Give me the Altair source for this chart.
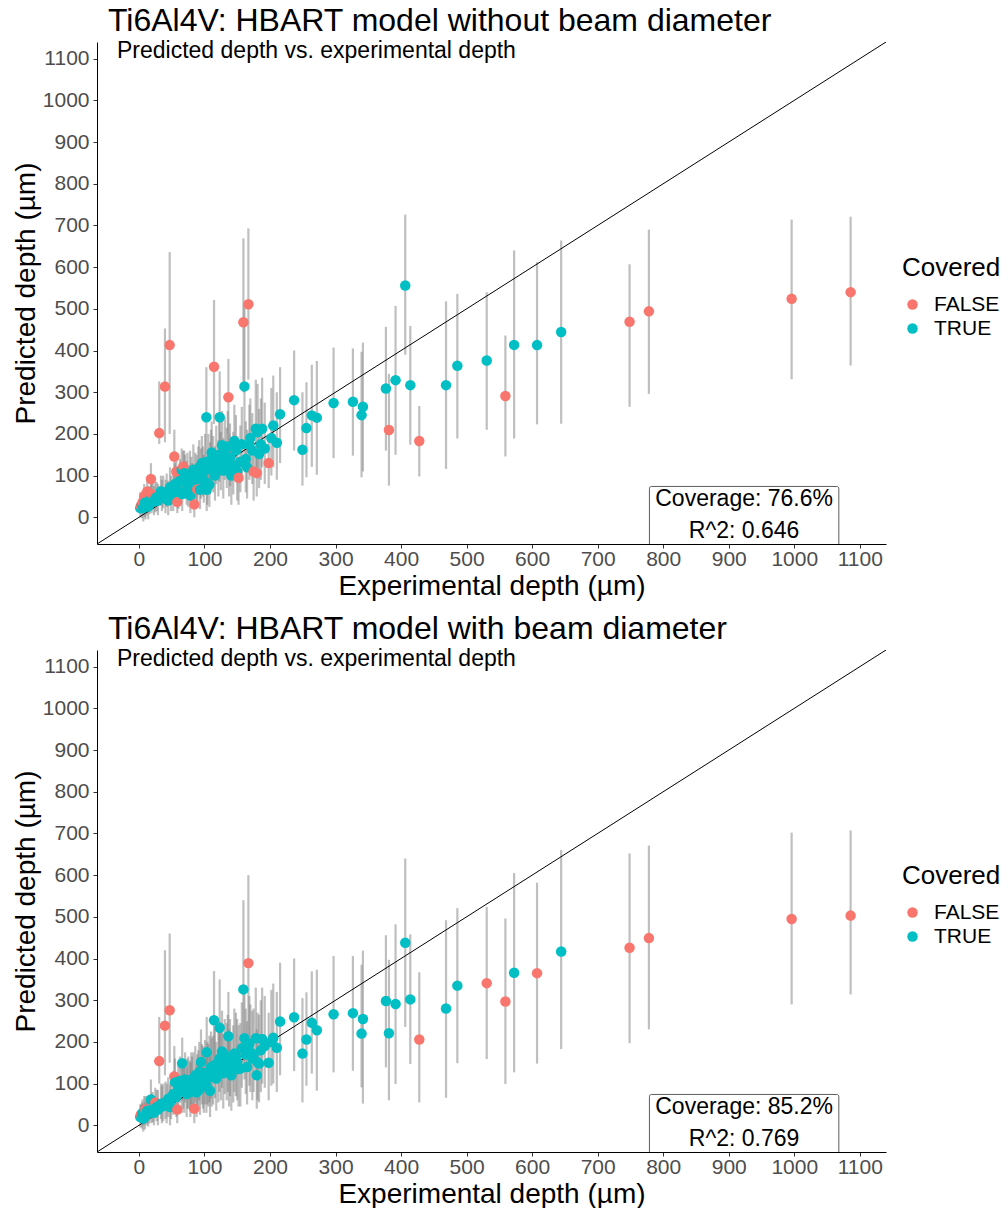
import altair as alt
import pandas as pd

# Experimental depth of each track (µm), shared by both models
exp_depth = [
    2, 3, 4.5, 5.6, 6.6, 8.1, 9, 10, 11.8, 12.7, 14.2, 16, 18.3, 19.4, 21, 23, 25, 27, 29, 31,
    33.6, 35, 37, 39.7, 40.5, 42.3, 44.7, 46.9, 47.4, 49, 52.4, 54, 55, 57, 58.5, 60, 62.6, 65.2, 66, 67.7,
    69, 70.5, 72.8, 74, 75.3, 77.9, 78.5, 79.9, 81, 83, 84.5, 86, 88, 89, 90.6, 92, 93.2, 94.7, 96, 97.8,
    99, 100.8, 102.9, 103.4, 104.3, 106, 107.5, 108.5, 110, 111, 113.4, 114.6, 116, 118, 121.2, 122.7, 123.2, 125, 126.8, 128.7,
    131, 134, 135.5, 136.5, 137.6, 139, 141, 144, 145.6, 148, 150, 152, 154.8, 157, 159.4, 161, 163, 165, 167, 168.5,
    170, 173, 175, 178.3, 179.8, 181, 183.3, 186, 188, 192, 198, 202, 205, 210.4, 215.4, 236.8, 249.5, 255.6, 263.8, 271.5,
    297, 326.5, 339.7, 341.8, 376.9, 381.5, 391.6, 406.4, 414.1, 427.8, 468.6, 485.9, 530.7, 559.2, 572.5, 607.5, 644.3, 748.7, 778.2, 996,
    1086,
]

# Model without beam diameter: prediction and interval bounds (µm)
pred_without = [
    22, 28, 30, 36, 22, 50, 35, 28, 32.6, 62, 26, 40, 92, 42, 55, 38, 45, 48, 40, 202,
    62.6, 50, 58, 313.5, 45, 60, 40.5, 413, 72, 55, 56, 146, 80, 109.5, 37, 65, 88, 114, 56, 122,
    106, 95, 80, 98, 70, 102, 52, 89.7, 75, 114, 31, 95, 92, 67, 108, 120, 66, 100, 130, 108,
    88, 132, 240, 66, 82.5, 132, 78.5, 115, 140, 155.5, 125, 361, 100, 145, 113.5, 150, 240, 130, 173, 112,
    160, 138, 170, 288, 118, 143.6, 100, 124, 183, 160, 110, 95, 133, 175, 468, 314, 140, 120, 511, 174,
    190, 160, 110, 212.6, 106, 204, 151.6, 175, 212.6, 165, 130, 190, 220, 179, 247, 281, 162, 214, 244.5, 239,
    274, 277, 245, 265, 309, 209.5, 329, 556, 317, 183, 317, 363.5, 376, 291, 413.5, 413, 444.5, 469, 494, 524,
    540,
]
lower_without = [
    0, 10, -2, 12, -10, 25, 0, -5, 5, 30, -5, 8, 60, 10, 25, 5, 12, 15, 5, 176,
    28, 15, 22, 180, 10, 25, 5, 200, 30, 15, 15, 80, 35, 65, 10, 20, 40, 60, 15, 85,
    55, 45, 30, 50, 25, 50, 10, 40, 30, 60, 0, 45, 40, 30, 55, 65, 20, 45, 70, 50,
    35, 70, 88, 15, 30, 70, 25, 55, 75, 90, 60, 224, 40, 80, 50, 85, 110, 65, 100, 45,
    90, 70, 100, 200, 50, 75, 30, 55, 105, 85, 40, 30, 60, 95, 300, 150, 60, 45, 330, 90,
    110, 80, 40, 120, 50, 110, 70, 90, 120, 80, 70, 100, 120, 90, 130, 160, 76, 96, 121, 102,
    142, 148, 96, 110, 160, 76, 150, 390, 174, 98, 116, 189, 210, 146, 189, 223, 224.5, 265, 296, 331,
    364,
]
upper_without = [
    60, 55, 62, 62, 58, 80, 70, 62, 65, 95, 60, 75, 130, 80, 90, 75, 85, 85, 80, 326,
    100, 90, 100, 453, 90, 105, 88, 636, 120, 100, 105, 210, 130, 155, 55, 115, 140, 165, 105, 160,
    160, 150, 135, 155, 125, 160, 110, 145, 130, 175, 75, 155, 150, 85, 170, 185, 125, 165, 195, 170,
    150, 200, 360, 130, 145, 200, 140, 180, 210, 230, 195, 521, 170, 220, 185, 230, 350, 205, 255, 190,
    240, 215, 255, 380, 200, 225, 180, 205, 270, 245, 195, 145, 220, 265, 669, 510, 230, 210, 693, 270,
    285, 250, 165, 330, 170, 320, 260, 285, 335, 275, 190, 310, 340, 300, 360, 400, 300, 324, 366, 375,
    407, 405, 397, 419, 457, 344, 507, 726, 459, 267, 518, 536, 540, 436, 640, 612, 664, 607, 690, 714,
    721,
]

# Model with beam diameter: prediction and interval bounds (µm)
pred_with = [
    20, 26, 22, 30, 16, 32, 20, 38, 30, 35, 28, 33, 62, 36, 40, 30, 55, 44, 38, 154,
    52, 45, 50, 239, 55.5, 48, 63.5, 276, 44, 60, 75, 117, 103, 68, 38, 87, 107, 82, 149, 95,
    88, 110, 75, 95, 99, 91, 80, 110, 96, 103, 40, 120, 79, 100, 107, 128, 87, 152, 118, 111,
    100, 125, 95, 175, 120, 115, 130, 83, 140, 122, 127, 252, 145, 112, 135, 160, 234, 145, 177, 125,
    160, 147, 165, 213.5, 130, 155, 120, 140, 172, 165, 150, 135, 136, 185, 326, 209, 170, 140, 389, 195,
    175, 160, 170, 209, 120, 151, 148, 180, 207, 190, 150, 200, 210, 186, 249, 259, 172, 206, 246, 228,
    266.5, 269, 220, 255, 298, 221, 291, 438, 302, 206, 280, 335, 341, 297, 366, 365, 417, 426, 449, 495,
    503,
]
lower_with = [
    -5, 8, -8, 0, -15, 2, -10, 15, 0, 5, -3, 5, 15, 5, 8, 0, 30, 10, 0, 100,
    15, 5, 10, 120, 15, 5, 20, 150, 0, 15, 25, 70, 45, 20, 5, 35, 55, 30, 60, 40,
    30, 55, 20, 40, 40, 35, 20, 50, 35, 40, 5, 55, 20, 35, 40, 60, 25, 80, 50, 40,
    30, 50, 30, 100, 50, 45, 55, 20, 65, 45, 50, 105, 65, 35, 55, 80, 115, 60, 90, 40,
    75, 60, 80, 120, 45, 70, 35, 55, 80, 70, 60, 45, 45, 90, 150, 110, 75, 50, 200, 95,
    80, 60, 80, 110, 40, 60, 55, 80, 100, 90, 60, 95, 100, 80, 120, 130, 55, 95, 124, 83,
    127, 131, 91, 52, 139, 60, 99, 236, 147, 55, 66, 149, 159, 99, 127, 148, 183, 197, 230, 290,
    314,
]
upper_with = [
    50, 50, 55, 62, 50, 70, 55, 70, 65, 70, 62, 68, 110, 75, 80, 70, 90, 85, 85, 260,
    100, 95, 100, 420, 105, 100, 115, 460, 100, 110, 130, 190, 160, 120, 55, 145, 165, 140, 210, 160,
    150, 175, 140, 160, 165, 155, 150, 175, 165, 175, 78, 190, 150, 170, 180, 200, 160, 230, 195, 190,
    180, 205, 175, 260, 200, 195, 215, 165, 225, 210, 215, 370, 235, 200, 225, 250, 350, 240, 275, 220,
    255, 245, 265, 320, 230, 255, 220, 240, 280, 270, 255, 240, 245, 295, 540, 330, 280, 250, 600, 310,
    290, 275, 280, 330, 230, 270, 265, 300, 330, 310, 270, 325, 340, 320, 390, 400, 305, 319, 369, 373,
    406, 406, 385, 419, 456, 397, 482, 640, 458, 367, 492, 521, 524, 496, 605, 582, 660, 652, 671, 702,
    707,
]

tick_values = list(range(0, 1200, 100))
axis_limits = [-64, 1140]
covered_levels = ["FALSE", "TRUE"]
covered_colors = ["#F8766D", "#00BFC4"]

PLOT_W, PLOT_H = 789, 502
FONT = "Liberation Sans"
X_TITLE = "Experimental depth (µm)"
Y_TITLE = "Predicted depth (µm)"
POINT_SIZE = 110


def panel(pred, lower, upper, title, subtitle, stats, anchor_top_left):
    df = pd.DataFrame({"exp": exp_depth, "pred": pred, "lower": lower, "upper": upper})
    inside = (df["lower"] <= df["exp"]) & (df["exp"] <= df["upper"])
    df["Covered"] = inside.map({True: "TRUE", False: "FALSE"})

    x_scale = alt.Scale(domain=axis_limits, nice=False, zero=False)
    y_scale = alt.Scale(domain=axis_limits, nice=False, zero=False)
    common_axis = dict(
        values=tick_values, format="d", grid=False, domainColor="black", domainWidth=1,
        tickColor="#333333", tickSize=4, tickWidth=1, labelFont=FONT, labelFontSize=21,
        labelColor="#4D4D4D", titleFont=FONT, titleFontSize=28, titleFontWeight="normal",
        titleColor="black",
    )
    x_enc = lambda f: alt.X(f, scale=x_scale, title=X_TITLE,
                            axis=alt.Axis(labelPadding=0, titlePadding=3, **common_axis))
    y_enc = lambda f: alt.Y(f, scale=y_scale, title=Y_TITLE,
                            axis=alt.Axis(labelPadding=4, titlePadding=2, **common_axis))

    # prediction intervals
    bars = alt.Chart(df).mark_rule(color="#7F7F7F", opacity=0.5, strokeWidth=2.2).encode(
        x=x_enc("exp:Q"), y=y_enc("lower:Q"), y2="upper:Q"
    )
    # identity line: predicted == experimental
    diag = alt.Chart(pd.DataFrame({"v": axis_limits})).mark_line(
        color="black", strokeWidth=1, clip=True
    ).encode(x=x_enc("v:Q"), y=y_enc("v:Q"))
    points = alt.Chart(df).mark_circle(size=POINT_SIZE, opacity=1).encode(
        x=x_enc("exp:Q"),
        y=y_enc("pred:Q"),
        color=alt.Color(
            "Covered:N",
            scale=alt.Scale(domain=covered_levels, range=covered_colors),
            legend=alt.Legend(
                title="Covered", orient="none", legendX=805, legendY=213,
                titleFont=FONT, titleFontSize=26, titleFontWeight="normal", titleColor="black",
                titlePadding=13, labelFont=FONT, labelFontSize=21, labelColor="black",
                symbolType="circle", symbolSize=POINT_SIZE, symbolStrokeWidth=0, symbolOpacity=1,
                rowPadding=2, labelOffset=11,
            ),
        ),
    )
    # statistics label box
    box = alt.Chart(pd.DataFrame({"x": [779], "x2": [1068], "y": [-90], "y2": [74]})).mark_rect(
        fill="white", stroke="#333333", strokeWidth=0.8, cornerRadius=2, clip=True
    ).encode(x=x_enc("x:Q"), x2="x2:Q", y=y_enc("y:Q"), y2="y2:Q")
    box_text = alt.Chart(pd.DataFrame({"x": [923.5], "y": [44]})).mark_text(
        font=FONT, fontSize=23, lineHeight=32, align="center", baseline="middle", color="black"
    ).encode(x=x_enc("x:Q"), y=y_enc("y:Q"), text=alt.value(stats))

    title_mark = alt.Chart(pd.DataFrame({"t": [title]})).mark_text(
        font=FONT, fontSize=32, align="left", baseline="middle", color="black"
    ).encode(x=alt.value(11), y=alt.value(-21), text="t:N")
    subtitle_mark = alt.Chart(pd.DataFrame({"t": [subtitle]})).mark_text(
        font=FONT, fontSize=23, align="left", baseline="middle", color="black"
    ).encode(x=alt.value(20), y=alt.value(9), text="t:N")

    layers = [bars, diag, points, box, box_text, title_mark, subtitle_mark]
    if anchor_top_left:
        # invisible corner that fixes the page origin
        corner = alt.Chart(pd.DataFrame({"a": [0]})).mark_rule(opacity=0, strokeWidth=0.01).encode(
            x=alt.value(-97), x2=alt.value(-97), y=alt.value(-42), y2=alt.value(-42)
        )
        layers.append(corner)
    return alt.layer(*layers).properties(width=PLOT_W, height=PLOT_H)


top = panel(pred_without, lower_without, upper_without,
            "Ti6Al4V: HBART model without beam diameter",
            "Predicted depth vs. experimental depth",
            ["Coverage: 76.6%", "R^2: 0.646"], True)
bottom = panel(pred_with, lower_with, upper_with,
               "Ti6Al4V: HBART model with beam diameter",
               "Predicted depth vs. experimental depth",
               ["Coverage: 85.2%", "R^2: 0.769"], False)

chart = (
    alt.vconcat(top, bottom, spacing=106, bounds="flush")
    .resolve_scale(color="independent")
    .properties(padding=0, background="white")
    .configure_view(strokeWidth=0)
)

chart.save("out.html", embed_options={"renderer": "svg", "actions": False})
